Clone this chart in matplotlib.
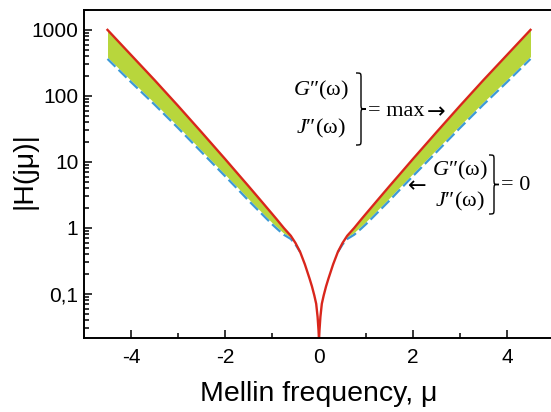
import numpy as np
import matplotlib
matplotlib.use("Agg")
import matplotlib.pyplot as plt
from matplotlib.path import Path
from matplotlib.patches import PathPatch
from matplotlib.ticker import FixedLocator, LogLocator, NullFormatter

# values for mu >= 0 (curve is symmetric)
mu_pos = [0.0, 0.01, 0.03, 0.06, 0.1, 0.15, 0.2, 0.3, 0.4, 0.5, 0.6, 0.75,
          0.9, 1.0, 1.25, 1.5, 1.75, 2.0, 2.5, 3.0, 3.5, 4.0, 4.5]
h_max = [0.02, 0.028, 0.045, 0.071, 0.095, 0.13, 0.17, 0.28, 0.43, 0.59,
         0.76, 1.0, 1.35, 1.64, 2.66, 4.3, 6.9, 11.1, 28.2, 70.8, 174, 417, 1000]
h_zero = [0.02, 0.028, 0.045, 0.071, 0.095, 0.13, 0.17, 0.28, 0.43, 0.56,
          0.68, 0.79, 0.98, 1.14, 1.72, 2.6, 4.0, 6.1, 14.1, 32.7, 74, 162, 363]

ytick_vals = [0.1, 1, 10, 100, 1000]
ytick_labels = ["0,1", "1", "10", "100", "1000"]
xtick_vals = [-4, -2, 0, 2, 4]

mu = np.concatenate([-np.array(mu_pos[::-1]), np.array(mu_pos[1:])])
red = np.concatenate([np.array(h_max[::-1]), np.array(h_max[1:])])
blue = np.concatenate([np.array(h_zero[::-1]), np.array(h_zero[1:])])
blue_line = np.where(np.abs(mu) >= 0.4, blue, np.nan)

plt.rcParams['font.family'] = ['Liberation Sans', 'DejaVu Sans']
plt.rcParams['mathtext.fontset'] = 'custom'
plt.rcParams['mathtext.rm'] = 'Liberation Serif'
plt.rcParams['mathtext.it'] = 'Liberation Serif:italic'

W, H = 551, 412
fig = plt.figure(figsize=(W / 100, H / 100), dpi=100)
ax = fig.add_axes([84 / W, 1 - 338 / H, 470 / W, 328 / H])

ax.fill_between(mu, blue, red, color="#b8d63c", lw=0)
ax.plot(mu, blue_line, color="white", lw=1.6)
ax.plot(mu, blue_line, color="#3d9ad6", lw=1.6, ls=(0, (5, 2)))
ax.plot(mu, red, color="#d9261c", lw=1.7)

ax.set_yscale("log")
ax.set_xlim(-5, 5)
ax.set_ylim(0.0215, 2000)

ax.yaxis.set_major_locator(FixedLocator(ytick_vals))
ax.set_yticklabels(ytick_labels)
ax.yaxis.set_minor_locator(LogLocator(base=10, subs=np.arange(2, 10)))
ax.yaxis.set_minor_formatter(NullFormatter())
ax.set_xticks(xtick_vals)
ax.set_xticklabels([str(v) for v in xtick_vals])
ax.xaxis.set_minor_locator(FixedLocator([-3, -1, 1, 3]))

ax.tick_params(which="both", direction="in", width=1.1, labelsize=15)
ax.tick_params(which="major", length=6)
ax.tick_params(which="minor", length=3.5)
ax.tick_params(axis="x", pad=7)
ax.tick_params(axis="y", pad=4)
ax.spines["right"].set_visible(False)
for s in ["left", "bottom", "top"]:
    ax.spines[s].set_linewidth(1.4)

ax.set_xlabel("Mellin frequency, μ", fontsize=20.5, labelpad=10)
ax.set_ylabel("|H(jμ)|", fontsize=20.5)
ax.yaxis.set_label_coords(-0.098, 0.51)


def fx(px):
    return px / W


def fy(py):
    return 1 - py / H


def brace(x0, yt, yb, w):
    xm = x0 + w * 0.5
    xe = x0 + w
    ym = (yt + yb) / 2
    r = w * 0.5
    pts = [(x0, yt), (xm, yt), (xm, yt), (xm, yt + r), (xm, ym - r),
           (xm, ym), (xm, ym), (xe, ym),
           (xm, ym), (xm, ym), (xm, ym + r), (xm, yb - r),
           (xm, yb), (xm, yb), (x0, yb)]
    codes = [Path.MOVETO, Path.CURVE4, Path.CURVE4, Path.CURVE4, Path.LINETO,
             Path.CURVE4, Path.CURVE4, Path.CURVE4,
             Path.CURVE4, Path.CURVE4, Path.CURVE4, Path.LINETO,
             Path.CURVE4, Path.CURVE4, Path.CURVE4]
    verts = [(fx(a), fy(b)) for a, b in pts]
    fig.add_artist(PathPatch(Path(verts, codes), fill=False, lw=1.0,
                             color="black", transform=fig.transFigure))


serif = ['Liberation Serif', 'DejaVu Serif']
g_txt = "$G$″(ω)"
j_txt = "$J$″(ω)"
fs = 16

fig.text(fx(321), fy(90), g_txt, fontsize=fs, family=serif, ha="center", va="center")
fig.text(fx(321), fy(128), j_txt, fontsize=fs, family=serif, ha="center", va="center")
brace(356, 73, 145, 10)
fig.text(fx(368), fy(112), "= max", fontsize=fs, family=serif, ha="left", va="center")
fig.text(fx(436), fy(112), "→", fontsize=fs, family=['DejaVu Sans'], ha="center", va="center")

fig.text(fx(460), fy(170), g_txt, fontsize=fs, family=serif, ha="center", va="center")
fig.text(fx(460), fy(201), j_txt, fontsize=fs, family=serif, ha="center", va="center")
brace(489, 155, 214, 10)
fig.text(fx(501), fy(185), "= 0", fontsize=fs, family=serif, ha="left", va="center")
fig.text(fx(417), fy(186), "←", fontsize=fs, family=['DejaVu Sans'], ha="center", va="center")

fig.savefig("out.png", dpi=100)
